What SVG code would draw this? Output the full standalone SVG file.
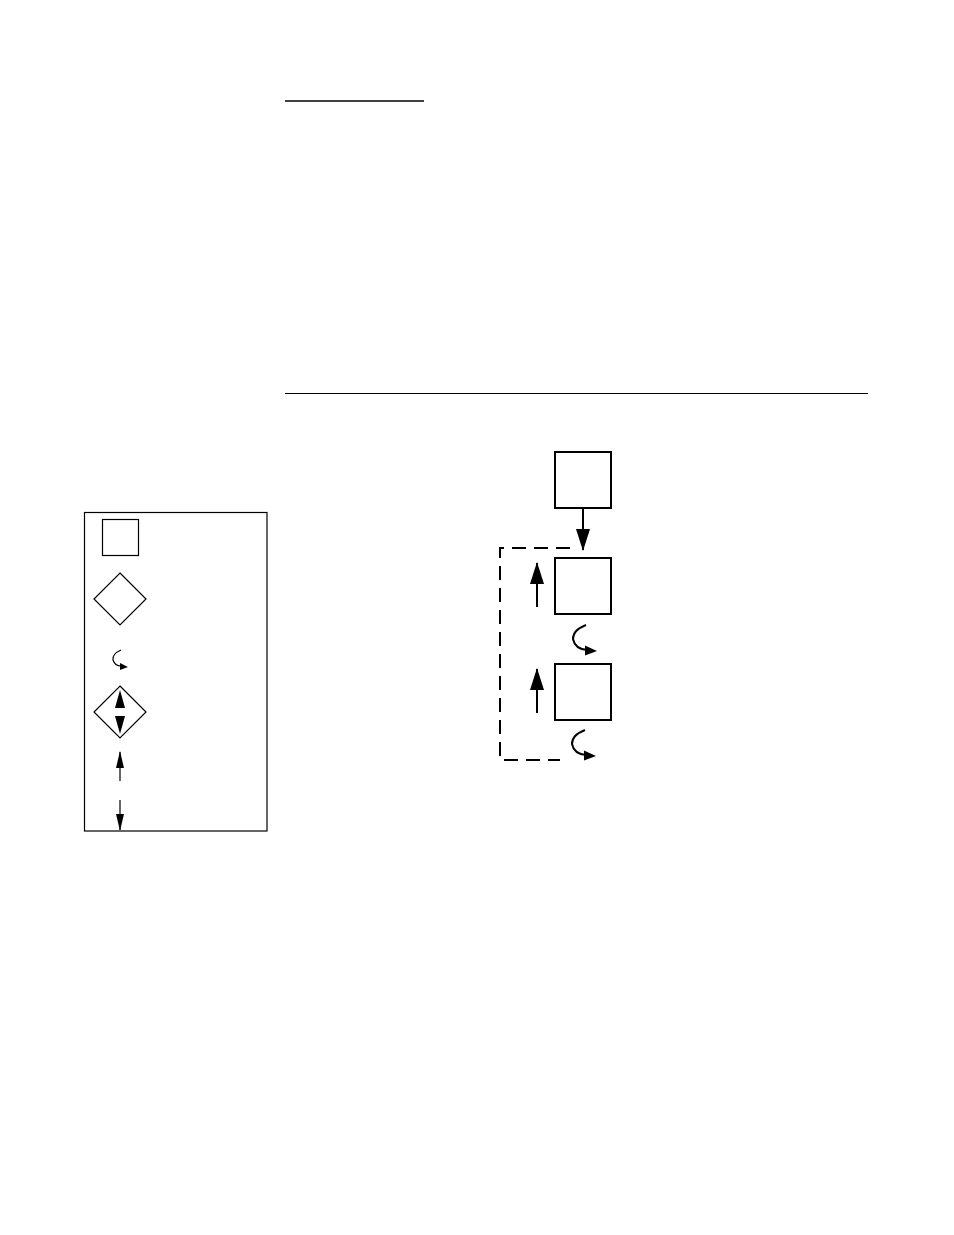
<svg xmlns="http://www.w3.org/2000/svg" width="954" height="1235" viewBox="0 0 954 1235">
<defs>
<style>
.box{fill:#fff;stroke:#000;stroke-width:2}
.lbox{fill:#fff;stroke:#000;stroke-width:1.2}
.ln{fill:none;stroke:#000;stroke-width:2}
.thin{fill:none;stroke:#000;stroke-width:1.2}
.dash{fill:none;stroke:#000;stroke-width:2;stroke-dasharray:14,8}
.head{fill:#000}
</style>
<marker id="ah" viewBox="0 0 22 14" refX="21" refY="7" markerWidth="22" markerHeight="14" orient="auto" markerUnits="userSpaceOnUse">
<path d="M0,0 L22,7 L0,14 Z" fill="#000"/>
</marker>
<marker id="ahl" viewBox="0 0 17 8" refX="16" refY="4" markerWidth="17" markerHeight="8" orient="auto" markerUnits="userSpaceOnUse">
<path d="M0,0 L17,4 L0,8 Z" fill="#000"/>
</marker>
</defs>
<rect width="954" height="1235" fill="#fff"/>
<g id="rules">
<line x1="285" y1="101" x2="424" y2="101" stroke="#000" stroke-width="1.5"/>
<line x1="285" y1="393.5" x2="868" y2="393.5" stroke="#000" stroke-width="1.2"/>
</g>
<g id="node1"><rect class="box" x="555" y="452" width="56" height="56"/></g>
<g id="node2"><rect class="box" x="555" y="558" width="56" height="56"/></g>
<g id="node3"><rect class="box" x="555" y="664" width="56" height="56"/></g>
<g id="legend">
<rect class="lbox" x="84.5" y="512.5" width="182.5" height="318.5"/>
<rect class="lbox" x="102.5" y="519.5" width="36" height="36"/>
<polygon class="lbox" points="120,573 146,599 120,625 94,599"/>
<path class="thin" d="M121,650 Q112,654 113,660 Q115,666 121,666"/>
<polygon class="head" points="120,663 128,667 120,670"/>
<polygon class="lbox" points="120,686 146,712 120,738 94,712"/>
<polygon points="120,690 115,708 125,708" fill="#000"/>
<polygon points="120,734 115,716 125,716" fill="#000"/>
<line class="thin" x1="120" y1="781" x2="120" y2="752" marker-end="url(#ahl)"/>
<line class="thin" x1="120" y1="800" x2="120" y2="830" marker-end="url(#ahl)"/>
</g>
<g id="connectors">
<line class="ln" x1="583" y1="508" x2="583" y2="550" marker-end="url(#ah)"/>
<polyline class="dash" points="570,548 500,548 500,760 560,760"/>
<line class="ln" x1="537" y1="607" x2="537" y2="563" marker-end="url(#ah)"/>
<line class="ln" x1="537" y1="713" x2="537" y2="669" marker-end="url(#ah)"/>
<path class="ln" d="M586,625 Q573,630 573,639 Q575,649 587,650"/>
<polygon class="head" points="585,645.5 597,651 585,655.5"/>
<path class="ln" d="M585,730 Q572,735 572,744 Q574,754 586,755"/>
<polygon class="head" points="584,750.5 596,756 584,760.5"/>
</g>
</svg>
